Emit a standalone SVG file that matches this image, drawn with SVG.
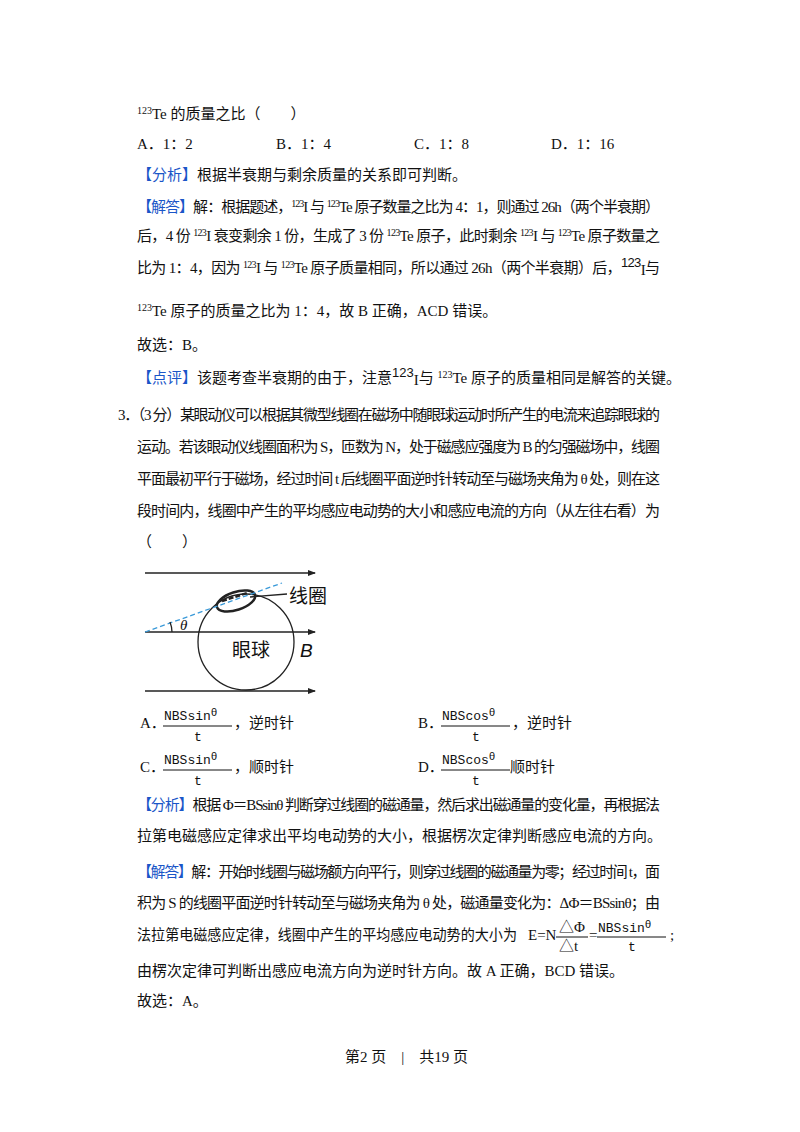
<svg xmlns="http://www.w3.org/2000/svg" width="800" height="1132" viewBox="0 0 800 1132">
<style>
text{font-family:"Liberation Serif","Noto Sans CJK SC",serif;font-size:15px;fill:#111}
.b{fill:#1a56c8}
.s{font-size:10px}
.m{font-family:"Liberation Mono","Noto Sans CJK SC",monospace;font-size:13px}
.f{font-family:"Liberation Sans","Noto Sans CJK SC",sans-serif;font-size:19px}
.ln{stroke:#222;stroke-width:1.3;fill:none}
</style>
<defs><marker id="ar" markerWidth="8" markerHeight="8" refX="7" refY="4" orient="auto" markerUnits="userSpaceOnUse"><path d="M0,1 L8,4 L0,7z" fill="#222"/></marker></defs>
<rect width="800" height="1132" fill="#fff"/>
<g id="text">
<text x="137" y="119"><tspan class="s" dy="-5">123</tspan><tspan dy="5">Te 的质量之比（　　）</tspan></text>
<text x="137" y="149">A．1：2</text><text x="276" y="149">B．1：4</text><text x="414" y="149">C．1：8</text><text x="551" y="149">D．1：16</text>
<text x="137" y="180"><tspan class="b">【分析】</tspan>根据半衰期与剩余质量的关系即可判断。</text>
<text x="137" y="212" textLength="523" lengthAdjust="spacing"><tspan class="b">【解答】</tspan>解：根据题述，<tspan class="s" dy="-5">123</tspan><tspan dy="5">I 与 </tspan><tspan class="s" dy="-5">123</tspan><tspan dy="5">Te 原子数量之比为 4：1，则通过 26h（两个半衰期）</tspan></text>
<text x="137" y="241" textLength="523" lengthAdjust="spacing">后，4 份 <tspan class="s" dy="-5">123</tspan><tspan dy="5">I 衰变剩余 1 份，生成了 3 份 </tspan><tspan class="s" dy="-5">123</tspan><tspan dy="5">Te 原子，此时剩余 </tspan><tspan class="s" dy="-5">123</tspan><tspan dy="5">I 与 </tspan><tspan class="s" dy="-5">123</tspan><tspan dy="5">Te 原子数量之</tspan></text>
<text x="137" y="273" textLength="523" lengthAdjust="spacing">比为 1：4，因为 <tspan class="s" dy="-5">123</tspan><tspan dy="5">I 与 </tspan><tspan class="s" dy="-5">123</tspan><tspan dy="5">Te 原子质量相同，所以通过 26h（两个半衰期）后，</tspan><tspan font-family="Liberation Sans" font-size="13" dy="-6">123</tspan><tspan dy="8">I</tspan><tspan dy="-2">与</tspan></text>
<text x="137" y="316"><tspan class="s" dy="-5">123</tspan><tspan dy="5">Te 原子的质量之比为 1：4，故 B 正确，ACD 错误。</tspan></text>
<text x="137" y="350">故选：B。</text>
<text x="137" y="383"><tspan class="b">【点评】</tspan>该题考查半衰期的由于，注意<tspan font-family="Liberation Sans" font-size="13" dy="-6">123</tspan><tspan dy="8">I</tspan><tspan dy="-2">与 </tspan><tspan class="s" dy="-5">123</tspan><tspan dy="5">Te 原子的质量相同是解答的关键。</tspan></text>
<text x="118" y="420" textLength="542" lengthAdjust="spacing">3．（3 分）某眼动仪可以根据其微型线圈在磁场中随眼球运动时所产生的电流来追踪眼球的</text>
<text x="137" y="452" textLength="523" lengthAdjust="spacing">运动。若该眼动仪线圈面积为 S，匝数为 N，处于磁感应强度为 B 的匀强磁场中，线圈</text>
<text x="137" y="484" textLength="523" lengthAdjust="spacing">平面最初平行于磁场，经过时间 t 后线圈平面逆时针转动至与磁场夹角为 θ 处，则在这</text>
<text x="137" y="516" textLength="523" lengthAdjust="spacing">段时间内，线圈中产生的平均感应电动势的大小和感应电流的方向（从左往右看）为</text>
<text x="137" y="547">（　　）</text>
</g>
<g id="figure">
<line class="ln" x1="145" y1="573" x2="315" y2="573" marker-end="url(#ar)"/>
<line class="ln" x1="145" y1="632" x2="315" y2="632" marker-end="url(#ar)"/>
<line class="ln" x1="145" y1="691" x2="315" y2="691" marker-end="url(#ar)"/>
<circle class="ln" cx="246" cy="642" r="48"/>
<ellipse cx="236" cy="601" rx="20" ry="9" transform="rotate(-18 236 601)" stroke="#222" stroke-width="2.5" fill="none"/>
<line x1="145" y1="632" x2="282" y2="583" stroke="#3a9ad9" stroke-width="1.3" stroke-dasharray="5,3"/>
<line x1="222" y1="601" x2="247" y2="593" stroke="#222" stroke-width="2.5" stroke-dasharray="5,2"/>
<line class="ln" x1="250" y1="597" x2="287" y2="594" stroke-width="1"/>
<path class="ln" d="M172,632 A 28 28 0 0 0 170 622" stroke-width="1"/>
<text x="180" y="630" font-style="italic" font-size="14">θ</text>
<text x="289" y="603" class="f">线圈</text>
<text x="232" y="657" class="f">眼球</text>
<text x="300" y="657" class="f" font-style="italic">B</text>
</g>
<g id="options">
<text x="140" y="728">A．</text>
<text x="164" y="720" class="m">NBSsin<tspan font-size="11" dy="-4">θ</tspan></text><line x1="163" y1="726" x2="232" y2="726" stroke="#111"/><text x="194" y="741" class="m">t</text><text x="234" y="728">，逆时针</text>
<text x="418" y="728">B．</text>
<text x="442" y="720" class="m">NBScos<tspan font-size="11" dy="-4">θ</tspan></text><line x1="441" y1="726" x2="510" y2="726" stroke="#111"/><text x="472" y="741" class="m">t</text><text x="512" y="728">，逆时针</text>
<text x="140" y="772">C．</text>
<text x="164" y="764" class="m">NBSsin<tspan font-size="11" dy="-4">θ</tspan></text><line x1="163" y1="770" x2="232" y2="770" stroke="#111"/><text x="194" y="785" class="m">t</text><text x="234" y="772">，顺时针</text>
<text x="418" y="772">D．</text>
<text x="442" y="764" class="m">NBScos<tspan font-size="11" dy="-4">θ</tspan></text><line x1="441" y1="770" x2="510" y2="770" stroke="#111"/><text x="472" y="785" class="m">t</text><text x="510" y="772">顺时针</text>
</g>
<g id="analysis">
<text x="137" y="810" textLength="523" lengthAdjust="spacing"><tspan class="b">【分析】</tspan>根据 Φ＝BSsinθ 判断穿过线圈的磁通量，然后求出磁通量的变化量，再根据法</text>
<text x="137" y="841">拉第电磁感应定律求出平均电动势的大小，根据楞次定律判断感应电流的方向。</text>
<text x="137" y="877" textLength="523" lengthAdjust="spacing"><tspan class="b">【解答】</tspan>解：开始时线圈与磁场额方向平行，则穿过线圈的磁通量为零；经过时间 t，面</text>
<text x="137" y="908" textLength="523" lengthAdjust="spacing">积为 S 的线圈平面逆时针转动至与磁场夹角为 θ 处，磁通量变化为：ΔΦ＝BSsinθ；由</text>
<text x="137" y="940" textLength="380" lengthAdjust="spacingAndGlyphs">法拉第电磁感应定律，线圈中产生的平均感应电动势的大小为</text>
<text x="528" y="940" font-family="Liberation Sans" font-size="12">E=N</text>
<text x="559" y="932" font-family="Liberation Sans" font-size="12">△Φ</text><line x1="556" y1="937" x2="588" y2="937" stroke="#111"/><text x="559" y="951" font-family="Liberation Sans" font-size="12">△t</text>
<text x="589" y="940" font-family="Liberation Sans" font-size="12">=</text>
<text x="598" y="932" class="m">NBSsin<tspan font-size="11" dy="-4">θ</tspan></text><line x1="597" y1="937" x2="666" y2="937" stroke="#111"/><text x="628" y="951" class="m">t</text>
<text x="670" y="940" font-size="13">;</text>
<text x="137" y="976">由楞次定律可判断出感应电流方向为逆时针方向。故 A 正确，BCD 错误。</text>
<text x="137" y="1006">故选：A。</text>
</g>
<text x="345" y="1062" font-size="14">第2 页　|　共19 页</text>
</svg>
